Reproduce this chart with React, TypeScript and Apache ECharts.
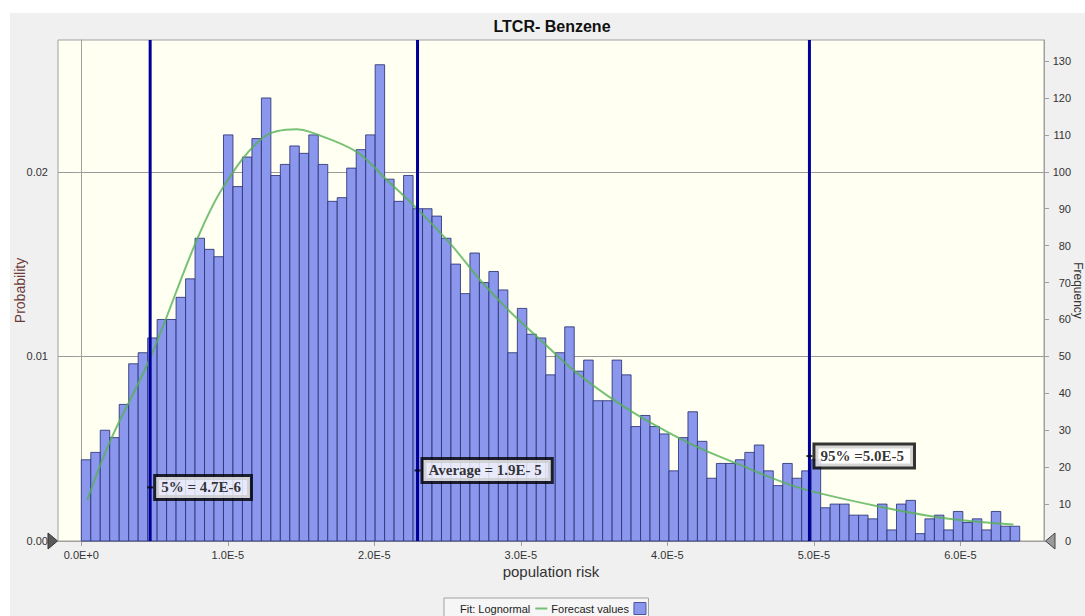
import React, { useEffect, useRef } from 'react';
import * as echarts from 'echarts';

// ---------- data ----------
const TITLE = 'LTCR- Benzene';
const X_NAME = 'population risk';
const Y_LEFT_NAME = 'Probability';
const Y_RIGHT_NAME = 'Frequency';
const SERIES_FIT = 'Fit: Lognormal';
const SERIES_BARS = 'Forecast values';

// histogram bins: start of first bin, width of each bin
const BIN_START = 0;
const BIN_WIDTH = 6.47e-7;
const FREQUENCIES = [
  22, 24, 30, 28, 37, 48, 51, 55, 60, 60,
  66, 71, 82, 79, 77, 110, 96, 104, 109, 120,
  99, 102, 107, 105, 110, 102, 92, 93, 101, 106,
  110, 129, 98, 92, 99, 90, 90, 88, 82, 75,
  67, 78, 70, 73, 68, 51, 63, 56, 55, 45,
  51, 58, 46, 49, 38, 38, 49, 45, 31, 34,
  31, 29, 19, 28, 35, 27, 17, 21, 21, 22,
  24, 26, 19, 15, 21, 17, 19, 22, 9, 10,
  10, 7, 7, 6, 10, 3, 10, 11, 2, 6,
  7, 3, 8, 5, 6, 3, 8, 4, 4,
];

// lognormal fit (x in population risk, y in frequency)
const FIT_X = [
  0.041e-5, 0.196e-5, 0.469e-5, 0.788e-5, 0.969e-5, 1.242e-5, 1.47e-5, 1.561e-5,
  1.88e-5, 2.085e-5, 2.289e-5, 2.517e-5, 2.722e-5, 2.927e-5, 3.131e-5, 3.358e-5,
  3.586e-5, 3.814e-5, 4.155e-5, 4.497e-5, 4.838e-5, 5.043e-5, 5.452e-5, 5.907e-5, 6.362e-5,
];
const FIT_FREQ = [
  11.1, 27, 49.5, 81.5, 95.9, 109.3, 111.5, 110.8,
  105.4, 97.8, 90.1, 80.6, 70.7, 62.1, 54.6, 46.3,
  39.5, 33.7, 26.4, 20.6, 15.2, 12.9, 9.3, 6.1, 4.5,
];

// reference lines
const MARKER_X = [4.7e-6, 2.295e-5, 4.97e-5];
const MARKER_LABEL_FREQ = [14.5, 19.1, 23.0];
const MARKER_LABELS = ['5% = 4.7E-6', 'Average = 1.9E- 5', '95% =5.0E-5'];

// axes
const X_MIN = -1.59e-6;
const X_MAX = 6.571e-5;
const X_TICK_VALUES = [0, 1e-5, 2e-5, 3e-5, 4e-5, 5e-5, 6e-5];
const X_TICK_LABELS = ['0.0E+0', '1.0E-5', '2.0E-5', '3.0E-5', '4.0E-5', '5.0E-5', '6.0E-5'];
const TRIALS = 5000;
const FREQ_MAX = 135.7;
const FREQ_TICKS = [0, 10, 20, 30, 40, 50, 60, 70, 80, 90, 100, 110, 120, 130];
const PROB_TICKS = [0, 0.01, 0.02];
const PROB_LABELS = ['0.00', '0.01', '0.02'];

// ---------- styles ----------
const SANS = "'Liberation Sans', Arial, sans-serif";
const SERIF = "'Liberation Serif', 'Times New Roman', serif";
const BAR_FILL = '#8a97ec';
const BAR_STROKE = '#2b3275';
const FIT_COLOR = 'rgba(86,178,86,0.8)';
const LINE_BLUE = '#000099';
const AXIS_GRAY = '#a0a0a0';

export default function App() {
  const ref = useRef<HTMLDivElement>(null);

  useEffect(() => {
    if (!ref.current) return;
    const chart = echarts.init(ref.current, undefined, { renderer: 'svg' });

    const barData = FREQUENCIES.map((f, i) => [
      BIN_START + i * BIN_WIDTH,
      BIN_START + (i + 1) * BIN_WIDTH,
      f,
    ]);
    const fitData = FIT_X.map((x, i) => [x, FIT_FREQ[i]]);
    const markerData = MARKER_X.map((x, i) => [x, MARKER_LABEL_FREQ[i]]);

    const option: any = {
      animation: false,
      backgroundColor: '#f0f0f0',
      textStyle: { fontFamily: SANS },
      title: {
        text: TITLE,
        left: 552,
        top: 18,
        textAlign: 'center',
        padding: 0,
        textStyle: { fontSize: 16, fontWeight: 'bold', color: '#111', fontFamily: SANS },
      },
      grid: {
        left: 58,
        right: 41,
        top: 40,
        bottom: 75,
        containLabel: false,
        outerBoundsMode: 'none',
        show: true,
        backgroundColor: '#fffff2',
        borderColor: AXIS_GRAY,
        borderWidth: 1,
      },
      legend: {
        left: 444,
        top: 598,
        orient: 'horizontal',
        align: 'right',
        backgroundColor: '#f6f6f6',
        borderColor: AXIS_GRAY,
        borderWidth: 1,
        padding: [4, 2, 6, 16],
        itemGap: 3,
        itemWidth: 12,
        itemHeight: 12,
        textStyle: { fontSize: 11, color: '#222', fontFamily: SANS },
        data: [
          { name: SERIES_FIT, itemStyle: { opacity: 0 } },
          {
            name: SERIES_BARS,
            icon: 'rect',
            itemStyle: { color: BAR_FILL, borderColor: '#4a55a0', borderWidth: 1 },
          },
        ],
      },
      graphic: [
        { type: 'rect', shape: { x: 0, y: 0, width: 1085, height: 13 }, style: { fill: '#ffffff' }, silent: true, z: -1 },
        { type: 'rect', shape: { x: 0, y: 0, width: 10, height: 616 }, style: { fill: '#ffffff' }, silent: true, z: -1 },
        {
          type: 'polygon',
          shape: { points: [[48, 533], [57.5, 541], [48, 549]] },
          style: { fill: '#5a5a5a', stroke: '#333', lineWidth: 1 },
          silent: true,
          z: 100,
        },
        {
          type: 'polygon',
          shape: { points: [[1055, 533], [1045.5, 541], [1055, 549]] },
          style: { fill: '#9a9a9a', stroke: '#444', lineWidth: 1 },
          silent: true,
          z: 100,
        },
      ],
      xAxis: {
        type: 'value',
        min: X_MIN,
        max: X_MAX,
        name: X_NAME,
        nameLocation: 'middle',
        nameGap: 23,
        nameMoveOverlap: false,
        nameTextStyle: { fontSize: 15, color: '#333', fontFamily: SANS },
        axisLine: { show: true, lineStyle: { color: AXIS_GRAY } },
        axisTick: { show: true, length: 5, customValues: X_TICK_VALUES, lineStyle: { color: AXIS_GRAY } },
        axisLabel: {
          customValues: X_TICK_VALUES,
          fontSize: 11,
          color: '#333',
          margin: 8,
          formatter: (v: number) => {
            const i = X_TICK_VALUES.findIndex((t) => Math.abs(t - v) < 1e-9);
            return i >= 0 ? X_TICK_LABELS[i] : '';
          },
        },
        splitLine: { show: false },
      },
      yAxis: [
        {
          type: 'value',
          position: 'left',
          min: 0,
          max: FREQ_MAX / TRIALS,
          interval: 0.01,
          name: Y_LEFT_NAME,
          nameLocation: 'middle',
          nameGap: 31,
          nameMoveOverlap: false,
          nameTextStyle: { fontSize: 14, color: '#6b3a3a', fontFamily: SANS },
          axisLine: { show: true, lineStyle: { color: AXIS_GRAY } },
          axisTick: { show: true, length: 7, customValues: PROB_TICKS, lineStyle: { color: AXIS_GRAY } },
          axisLabel: {
            customValues: PROB_TICKS,
            fontSize: 11,
            color: '#333',
            margin: 10,
            formatter: (v: number) => {
              const i = PROB_TICKS.findIndex((t) => Math.abs(t - v) < 1e-9);
              return i >= 0 ? PROB_LABELS[i] : '';
            },
          },
          splitLine: { show: true, lineStyle: { color: '#9a9a9a' } },
        },
        {
          type: 'value',
          position: 'right',
          min: 0,
          max: FREQ_MAX,
          interval: 10,
          name: Y_RIGHT_NAME,
          nameLocation: 'middle',
          nameRotate: -90,
          nameGap: 28,
          nameMoveOverlap: false,
          nameTextStyle: { fontSize: 12, color: '#333', fontFamily: SANS },
          axisLine: { show: true, lineStyle: { color: AXIS_GRAY } },
          axisTick: { show: true, length: 5, customValues: FREQ_TICKS, lineStyle: { color: AXIS_GRAY } },
          axisLabel: {
            customValues: FREQ_TICKS,
            fontSize: 11,
            color: '#333',
            align: 'right',
            margin: 27,
          },
          splitLine: { show: false },
        },
      ],
      series: [
        {
          name: SERIES_BARS,
          type: 'custom',
          yAxisIndex: 1,
          data: barData,
          encode: { x: [0, 1], y: 2 },
          itemStyle: { color: BAR_FILL, borderColor: BAR_STROKE },
          z: 2,
          renderItem: (params: any, api: any) => {
            const x0 = api.value(0);
            const x1 = api.value(1);
            const f = api.value(2);
            const p0 = api.coord([x0, f]);
            const p1 = api.coord([x1, 0]);
            return {
              type: 'rect',
              shape: { x: p0[0], y: p0[1], width: p1[0] - p0[0], height: p1[1] - p0[1] },
              style: { fill: BAR_FILL, stroke: BAR_STROKE, lineWidth: 1, strokeOpacity: 0.85 },
            };
          },
        },
        {
          name: SERIES_FIT,
          type: 'line',
          yAxisIndex: 1,
          data: fitData,
          smooth: 0.35,
          symbol: 'none',
          lineStyle: { color: FIT_COLOR, width: 2 },
          itemStyle: { color: FIT_COLOR },
          z: 3,
        },
        {
          name: 'reference lines',
          type: 'custom',
          yAxisIndex: 1,
          data: MARKER_X.map((x) => [x, 0]),
          encode: { x: 0, y: 1 },
          z: 4,
          renderItem: (params: any, api: any) => {
            const bottom = api.coord([api.value(0), 0]);
            const top = api.coord([api.value(0), FREQ_MAX]);
            return {
              type: 'line',
              shape: { x1: bottom[0], y1: bottom[1], x2: top[0], y2: top[1] },
              style: { stroke: LINE_BLUE, lineWidth: 3 },
            };
          },
        },
        {
          name: 'markers',
          type: 'scatter',
          yAxisIndex: 1,
          data: markerData,
          symbol: 'rect',
          symbolSize: [6, 2],
          itemStyle: { color: '#000' },
          z: 5,
          label: {
            show: true,
            position: 'right',
            distance: 3,
            formatter: (p: any) => MARKER_LABELS[p.dataIndex],
            fontFamily: SERIF,
            fontWeight: 'bold',
            fontSize: 15,
            lineHeight: 15,
            color: '#000',
            backgroundColor: '#ffffff',
            borderColor: '#000',
            borderWidth: 3,
            padding: [3, 9, 3, 5],
          },
        },
      ],
    };

    chart.setOption(option);
    return () => chart.dispose();
  }, []);

  return (
    <div
      ref={ref}
      style={{ position: 'absolute', left: 0, top: 0, width: 1085, height: 616 }}
    />
  );
}
